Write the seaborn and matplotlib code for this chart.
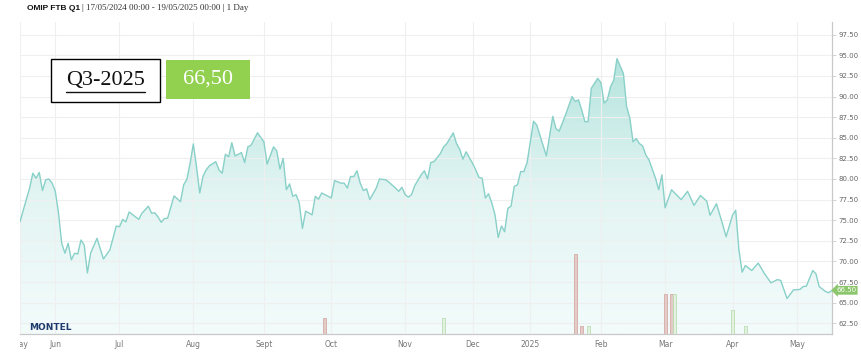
import numpy as np
import pandas as pd
import matplotlib
matplotlib.use("Agg")
import matplotlib.pyplot as plt
import seaborn as sns
from matplotlib.colors import LinearSegmentedColormap
from matplotlib.patches import Rectangle
from matplotlib.lines import Line2D
from matplotlib.transforms import Bbox, TransformedBbox, blended_transform_factory

# ---------------- data ----------------
title_bold = "OMIP FTB Q1"
title_rest = "| 17/05/2024 00:00 - 19/05/2025 00:00 | 1 Day"
contract = "Q3-2025"
last_value_text = "66,50"
last_value_tag = "66.50"

start_date = "2024-05-17"
end_date = "2025-05-19"
holidays = ["2024-12-24", "2024-12-25", "2024-12-26", "2024-12-31",
            "2025-01-01", "2025-04-18", "2025-04-21", "2025-05-01"]

# trading session number (since 17/05/2024) and settlement price
session = [0, 1, 3, 4, 5, 6, 7, 8, 9, 10, 11, 12, 13, 14, 15, 16, 17, 18, 19, 20,
           21, 22, 24, 26, 28, 30, 31, 32, 33, 34, 36, 37, 38, 40, 41, 42, 43, 44, 45, 46,
           48, 50, 51, 52, 53, 54, 55, 56, 57, 58, 59, 61, 62, 63, 64, 65, 66, 67, 69, 70,
           71, 72, 74, 76, 77, 79, 80, 81, 82, 83, 84, 85, 86, 87, 88, 89, 91, 92, 93, 94,
           96, 97, 98, 100, 101, 102, 103, 104, 105, 106, 107, 108, 109, 111, 112, 114, 115, 117, 118, 119,
           120, 121, 122, 123, 125, 126, 127, 128, 129, 131, 132, 133, 135, 136, 137, 138, 139, 141, 142, 143,
           144, 145, 146, 147, 148, 149, 150, 151, 152, 153, 154, 155, 156, 157, 158, 160, 161, 164, 166, 167,
           168, 170, 172, 173, 174, 175, 176, 177, 178, 180, 181, 182, 183, 184, 185, 186, 188, 189, 190, 191,
           192, 193, 194, 195, 196, 198, 199, 200, 201, 203, 206, 208, 210, 212, 214, 215, 217, 219, 220, 222,
           223, 224, 225, 226, 228, 230, 232, 234, 236, 237, 239, 241, 243, 244, 245, 247, 248, 249, 251, 252,
           253]
price = [74.8, 76.2, 78.9, 80.7, 80.1, 80.8, 78.6, 79.9, 80.0, 79.5, 78.5, 75.85, 72.2, 71.0, 72.2, 70.2, 71.0, 70.9, 72.6, 72.0,
         68.6, 71.0, 72.8, 70.3, 71.4, 74.3, 74.2, 75.1, 74.8, 76.0, 75.4, 75.1, 75.85, 76.7, 75.85, 75.9, 75.4, 74.75, 75.2, 75.25,
         77.95, 77.25, 79.3, 79.97, 81.9, 84.25, 81.5, 78.3, 80.3, 81.1, 81.6, 82.1, 81.1, 80.7, 83.0, 82.7, 84.4, 82.8, 83.2, 82.0,
         83.9, 84.1, 85.6, 84.5, 81.8, 83.9, 83.4, 81.2, 82.5, 78.7, 79.4, 77.9, 78.1, 77.1, 74.0, 76.1, 75.65, 77.9, 77.55, 78.3,
         77.9, 77.7, 79.8, 79.5, 79.5, 78.9, 80.3, 80.3, 81.0, 79.5, 78.6, 78.8, 77.5, 78.9, 80.0, 79.9, 79.6, 78.9, 78.5, 79.0,
         78.1, 77.8, 78.1, 79.2, 80.5, 81.0, 80.0, 82.0, 82.1, 83.1, 83.9, 84.3, 85.6, 84.3, 83.6, 82.4, 83.3, 81.9, 81.1, 80.2,
         80.1, 77.7, 78.2, 77.1, 75.65, 72.9, 74.3, 73.6, 76.45, 76.7, 79.1, 79.3, 80.9, 80.9, 82.0, 87.0, 86.55, 82.8, 87.6, 86.1,
         85.8, 87.8, 90.0, 89.4, 89.6, 88.4, 86.95, 86.95, 91.0, 92.2, 91.7, 89.2, 89.6, 91.2, 92.0, 94.6, 92.8, 88.8, 87.4, 84.5,
         84.9, 84.3, 84.0, 82.9, 82.3, 80.1, 78.7, 80.5, 76.5, 78.7, 77.5, 78.5, 76.8, 78.0, 77.3, 75.6, 77.0, 74.4, 73.0, 75.6,
         76.2, 71.4, 68.7, 69.5, 68.9, 69.8, 68.5, 67.4, 67.8, 67.7, 65.5, 66.55, 66.6, 66.95, 67.0, 68.9, 68.5, 66.95, 66.35, 66.2,
         66.5]

# traded volume bars (session, lots, direction)
vol_session = [95, 132, 173, 175, 177, 201, 203, 204, 222, 226]
vol_lots = [2, 2, 10, 1, 1, 5, 5, 5, 3, 1]
vol_dir = ["down", "up", "down", "down", "up", "down", "down", "up", "up", "up"]

month_labels = ["May", "Jun", "Jul", "Aug", "Sept", "Oct", "Nov", "Dec",
                "2025", "Feb", "Mar", "Apr", "May"]
y_ticks = [62.5, 65.0, 67.5, 70.0, 72.5, 75.0, 77.5, 80.0, 82.5, 85.0, 87.5, 90.0, 92.5, 95.0, 97.5]

# ---------------- trading calendar ----------------
days = pd.bdate_range(start_date, end_date)
days = days[~days.isin(pd.to_datetime(holidays))]
n_sess = len(days)
month_key = days.to_period("M")
first_idx = [0] + [i for i in range(1, n_sess) if month_key[i] != month_key[i - 1]]

# ---------------- figure ----------------
sns.set_style("white")
W, H = 861, 359
fig = plt.figure(figsize=(W / 100, H / 100), dpi=100)
ax = fig.add_axes([20 / W, 25 / H, 812 / W, 312 / H])

df = pd.DataFrame({"session": session, "price": price})
ymin, ymax = 61.2, 99.04
xmax = n_sess - 1

# gradient area
poly = ax.fill_between(df["session"], df["price"], ymin, color="none", lw=0)
cmap = LinearSegmentedColormap.from_list("g", ["#f3fbfb", "#e2f5f3", "#b3e3dd"])
grad = np.linspace(0, 1, 256).reshape(-1, 1)
im = ax.imshow(grad, aspect="auto", cmap=cmap, origin="lower",
               extent=[0, xmax, ymin, 95.5], zorder=1, interpolation="bilinear")
im.set_clip_path(poly.get_paths()[0], transform=ax.transData)

sns.lineplot(data=df, x="session", y="price", ax=ax, color="#88d0c8", lw=1.0, zorder=3)

ax.set_xlim(0, xmax)
ax.set_ylim(ymin, ymax)
ax.set_xlabel("")
ax.set_ylabel("")

# volume bars on a twin axis
ax2 = ax.twinx()
vdf = pd.DataFrame({"session": vol_session, "lots": vol_lots, "dir": vol_dir})
for d, fc, ec in [("down", "#e4cbc7", "#d5aca7"), ("up", "#e3f2df", "#bcdcb5")]:
    sub = vdf[vdf["dir"] == d]
    ax2.bar(sub["session"], sub["lots"], width=0.9, color=fc, edgecolor=ec, lw=0.6, zorder=4)
ax2.set_ylim(0, 39)
ax2.set_xlim(0, xmax)
ax2.set_yticks([])
ax2.grid(False)
for s in ax2.spines.values():
    s.set_visible(False)

# axes styling (after twinx, which resets tick sides)
ax.set_yticks(y_ticks)
ax.set_xticks(first_idx)
ax.set_xticklabels(month_labels)
ax.grid(True, color="#efefef", linewidth=0.8, alpha=1.0)
ax.set_axisbelow(False)
ax.yaxis.tick_right()
ax.yaxis.set_major_formatter(matplotlib.ticker.FormatStrFormatter("%.2f"))
ax.tick_params(axis="y", labelsize=5, labelcolor="#666666", length=3, color="#cccccc",
               width=0.6, pad=1.5, left=False, labelleft=False, right=True, labelright=True)
ax.tick_params(axis="x", labelsize=5.5, labelcolor="#777777", length=0, pad=4)
for s in ["top", "left"]:
    ax.spines[s].set_visible(False)
for s in ["right", "bottom"]:
    ax.spines[s].set_color("#c8c8c8")
    ax.spines[s].set_linewidth(0.9)

clip = TransformedBbox(Bbox([[0, -1], [1.2, 0]]), ax.transAxes)
for lbl in ax.get_xticklabels():
    lbl.set_clip_box(clip)
    lbl.set_clip_on(True)

# last value tag
tr = blended_transform_factory(ax.transAxes, ax.transData)
ax2.text(1.005, price[-1], last_value_tag, transform=tr, ha="left", va="center",
         fontsize=5, color="white", zorder=10, clip_on=False,
         bbox=dict(boxstyle="larrow,pad=0.2", fc="#8cc66c", ec="none"))

# title
fig.text(27 / W, 1 - 8 / H, title_bold, fontsize=6, fontweight="bold",
         family="Liberation Sans", va="center", ha="left", color="#111111")
fig.text(82 / W, 1 - 8 / H, title_rest, fontsize=6.5,
         family="Liberation Serif", va="center", ha="left", color="#333333")

# contract box
fig.add_artist(Rectangle((51 / W, 1 - 101.5 / H), 109 / W, 43 / H, transform=fig.transFigure,
                         fc="white", ec="black", lw=1.0, zorder=20))
fig.text(105.5 / W, 1 - 80 / H, contract, fontsize=16, family="Liberation Serif",
         ha="center", va="center", color="#111111", zorder=21)
fig.add_artist(Line2D([66 / W, 145 / W], [1 - 91.5 / H, 1 - 91.5 / H], transform=fig.transFigure,
                      color="#111111", lw=1.0, zorder=21))
fig.add_artist(Rectangle((166 / W, 1 - 98.5 / H), 84 / W, 38.5 / H, transform=fig.transFigure,
                         fc="#92d050", ec="none", zorder=20))
fig.text(208 / W, 1 - 79.5 / H, last_value_text, fontsize=16, family="Liberation Serif",
         ha="center", va="center", color="white", zorder=21)

# logo
fig.text(29 / W, 1 - 327 / H, "MONTEL", fontsize=6.5, fontweight="heavy",
         family="DejaVu Sans", ha="left", va="center", color="#1d3b6c")

fig.savefig("out.png", dpi=100)
